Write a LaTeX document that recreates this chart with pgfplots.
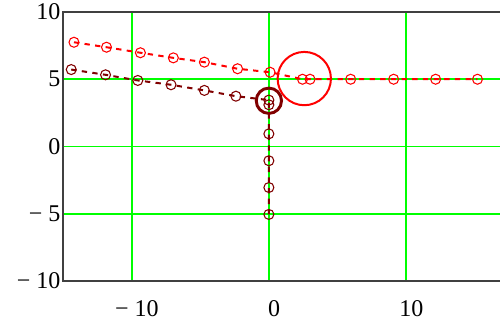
\documentclass[border=0pt]{standalone}
\usepackage{fontspec}
\setmainfont{Liberation Serif}
\usepackage{pgfplots}
\pgfplotsset{compat=1.18}
\definecolor{mcred}{RGB}{255,0,0}
\definecolor{mcdark}{RGB}{128,0,0}
\definecolor{mcgreen}{RGB}{0,255,0}
\begin{document}
\begin{tikzpicture}
\begin{axis}[
 scale only axis, width=329.5pt, height=201.75pt,
 xmin=-15, xmax=17.01, ymin=-10, ymax=10,
 axis line style={line width=1.5pt, color=black!75},
 xtick={-10,0,10}, ytick={-10,-5,0,5,10},
 xticklabels={− 10,0,10}, yticklabels={− 10,− 5,0,5,10},
 major tick length=0pt,
 xmajorgrids, ymajorgrids,
 major grid style={mcgreen, line width=1.4pt},
 ticklabel style={font=\fontsize{18}{20}\selectfont, text=black},
 xticklabel style={yshift=-11pt, xshift=4pt},
 yticklabel style={xshift=1.5pt},
]
\addplot[mcred, line width=1.5pt, dash pattern=on 4pt off 4pt, mark=o, mark size=3.75pt,
  mark options={solid, line width=0.8pt}] coordinates {
 (-14.2,7.75) (-11.83,7.38) (-9.36,6.97) (-6.96,6.59) (-4.7,6.27) (-2.28,5.78) (0.09,5.52)
 (2.45,5.0) (3.0,5.0) (5.96,5.0) (9.09,5.0) (12.15,5.0) (15.2,5.0)
};
\addplot[mcdark, line width=1.5pt, dash pattern=on 4pt off 4pt, mark=o, mark size=3.75pt,
  mark options={solid, line width=0.8pt}] coordinates {
 (-14.4,5.72) (-11.9,5.33) (-9.55,4.91) (-7.13,4.59) (-4.7,4.17) (-2.4,3.74)
 (0,3.45) (0,3.1) (0,0.94) (0,-1.06) (0,-3.05) (0,-5.05)
};
\addplot[mcred, line width=1.5pt, only marks, mark=o, mark size=20pt, mark options={solid}]
 coordinates {(2.58,5.05)};
\addplot[mcdark, line width=2.2pt, only marks, mark=o, mark size=9.5pt, mark options={solid}]
 coordinates {(0,3.4)};
\end{axis}
\pgfresetboundingbox
\path (-47.25pt,-31.5pt) rectangle (327.75pt,210.75pt);
\end{tikzpicture}
\end{document}
